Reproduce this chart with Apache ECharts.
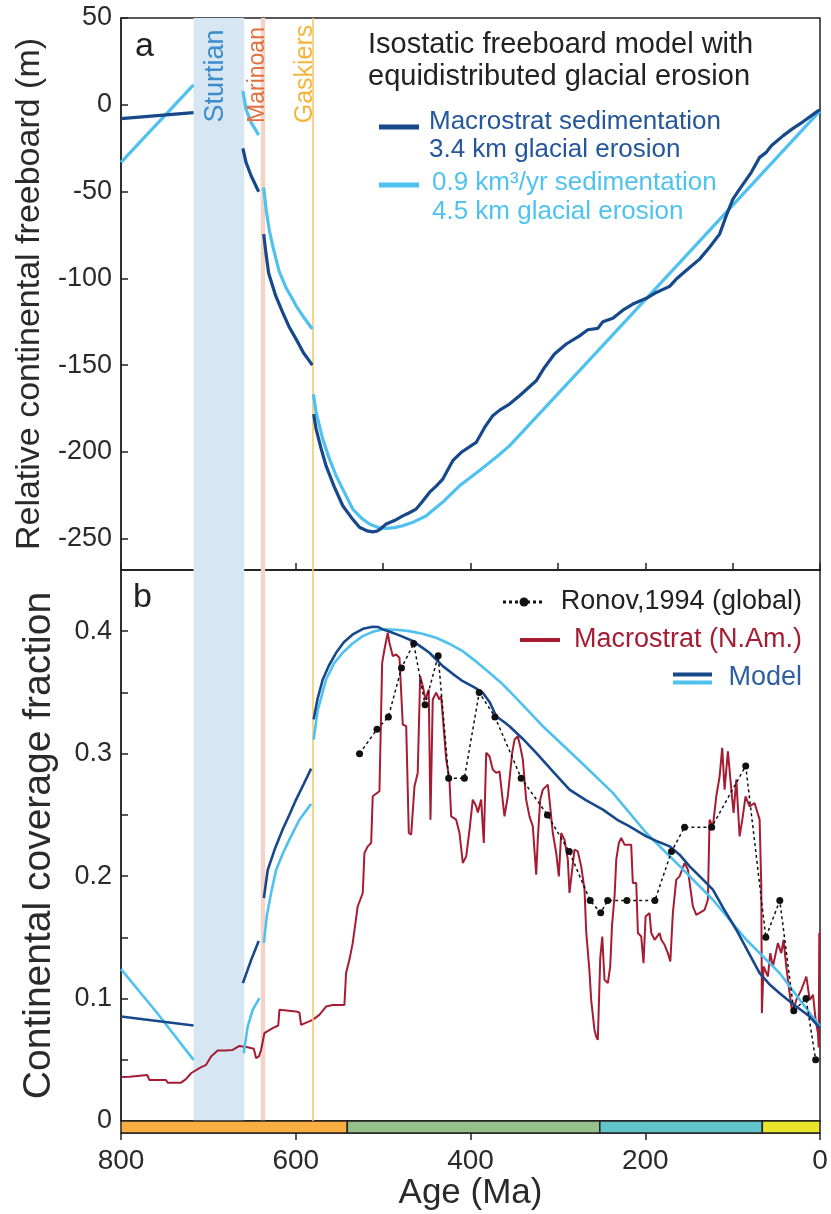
<!DOCTYPE html>
<html>
<head>
<meta charset="utf-8">
<script src="https://cdn.jsdelivr.net/npm/echarts@6/dist/echarts.min.js"></script>
<style>
html,body{margin:0;padding:0;background:#fff;}
#chart{width:831px;height:1214px;}
</style>
</head>
<body>
<div id="chart"></div>
<script>
// ---------------- DATA ----------------
// Panel a: relative continental freeboard (m) vs age (Ma)
const fbMacro1 = [[800,-8],[717,-4.5]];
const fbConst1 = [[800,-33.2],[717,11.5]];
const fbMacro2 = [[660.5,-25.1],[656.9,-33.2],[651.1,-40.9],[642.4,-50.1]];
const fbConst2 = [[660.5,8],[656.9,-2.5],[651.1,-10.1],[642.4,-17.5]];
const fbMacro3 = [[636.7,-74.5],[634,-86],[631,-97],[623,-110],[615,-119.6],[607.5,-128],[599.6,-135],[591,-143],[581,-150]];
const fbConst3 = [[636.7,-47.6],[634,-60],[630,-73],[626,-82],[619,-96],[611,-105.5],[603,-112.5],[599.6,-115.8],[590,-123],[581,-129.2]];
const fbMacro4 = [[579.5,-178.2],[576.7,-186.9],[571,-198],[565.3,-208],[556,-220],[546.2,-231],[536,-238],[527.1,-243.4],[518,-245.5],[512,-246],[507,-245.6],[504.2,-244.8],[496.5,-241.5],[487,-239.5],[477.5,-236.8],[470,-235],[462.2,-232.9],[455,-228.5],[447,-223.3],[439,-219.5],[431.7,-215.6],[420.3,-205],[410,-200],[393.5,-194.5],[384,-186],[374.5,-179.1],[366.6,-175.9],[355.4,-172.4],[343.9,-167.6],[324.8,-159],[315.3,-151.3],[303.9,-143.6],[290.4,-137.8],[275.2,-133.1],[265.7,-129.6],[254.3,-128.8],[248.5,-125],[237.1,-123],[225.6,-118.3],[214.2,-114.8],[198.8,-111.5],[187.4,-108.1],[172.1,-104.6],[164.5,-100.4],[149.2,-93.7],[137.8,-88.9],[126.4,-82.1],[114.9,-74.5],[107.3,-63.9],[99.7,-54.3],[92,-48.6],[78.6,-38.9],[69.1,-30.3],[61.5,-27.4],[55.7,-23.6],[42.4,-17.9],[30.9,-13.6],[19.5,-9.8],[2.3,-3.5],[0,-3]];
const fbConst4 = [[579.8,-166.8],[576.7,-177.2],[569.1,-192.6],[561.5,-204],[553.8,-213.7],[546.2,-221.4],[534.8,-232.9],[525,-238],[515.7,-241.5],[505,-243.6],[496.5,-244],[487,-243.6],[477.5,-242.5],[465,-240.3],[450.7,-236.8],[432,-229],[412.6,-219.5],[390,-210.8],[370,-202.8],[355.4,-196.5],[250,-139.5],[150,-85.2],[0,-3.5]];

// Panel b: continental coverage fraction vs age (Ma)
const covMacro1 = [[800,0.0853],[717,0.078]];
const covConst1 = [[800,0.124],[760,0.0894],[717,0.0499]];
const covMacro2 = [[660.5,0.1126],[651,0.1316],[642.4,0.147]];
const covConst2 = [[659.6,0.0553],[655,0.0771],[649.3,0.0908],[641.6,0.1003]];
const covMacro3 = [[636.5,0.182],[632.1,0.205],[623.5,0.223],[615,0.238],[607,0.2505],[599.6,0.2625],[591,0.275],[582.4,0.2878]];
const covConst3 = [[636.5,0.1455],[633,0.168],[628,0.187],[622.5,0.205],[615,0.218],[607.3,0.2298],[595.8,0.246],[582.4,0.259]];
const covMacro4 = [[579.5,0.328],[575,0.345],[569.1,0.3606],[562,0.372],[553.8,0.3824],[545,0.391],[534.8,0.3974],[523,0.402],[512,0.4037],[506,0.4035],[500.4,0.4015],[490,0.399],[481.3,0.3966],[466.1,0.392],[456,0.387],[447,0.3824],[431.7,0.3715],[420,0.365],[408.8,0.3592],[395,0.354],[385.9,0.3497],[378,0.342],[370.6,0.3306],[360,0.325],[355.4,0.3224],[340,0.312],[324.8,0.3007],[305,0.285],[286.7,0.2706],[268,0.262],[248.5,0.2543],[232,0.246],[218,0.2406],[198.8,0.2325],[185,0.228],[172.1,0.2243],[160,0.217],[149.2,0.208],[135,0.198],[122.6,0.1889],[110,0.173],[95.8,0.1562],[82,0.138],[69.1,0.1208],[57,0.111],[46.2,0.1044],[37,0.099],[27.1,0.0935],[11.8,0.0853],[0,0.0758]];
const covConst4 = [[579.5,0.3115],[575,0.335],[565.3,0.3606],[556,0.374],[546.2,0.3824],[535,0.39],[523.3,0.396],[512,0.3995],[500.4,0.4015],[485,0.4012],[469.9,0.4001],[455,0.398],[439.3,0.3947],[425,0.39],[408.8,0.3837],[395,0.376],[378.3,0.366],[365,0.358],[355.4,0.351],[336,0.3365],[317.2,0.3224],[275,0.294],[237.1,0.268],[198.8,0.2352],[160.3,0.208],[122.6,0.1807],[84.3,0.148],[46.2,0.1208],[0,0.0771]];

const macrostrat = [[800,0.036],[790,0.0362],[770,0.0376],[767.6,0.0335],[748.5,0.0335],[746.6,0.0313],[731.3,0.0313],[726,0.034],[719.8,0.039],[710.3,0.0431],[702.7,0.0458],[696.9,0.0526],[689.4,0.0575],[680,0.0575],[672.2,0.058],[664.5,0.0613],[655,0.0602],[648,0.059],[645.4,0.0512],[642,0.053],[639.7,0.058],[635.9,0.0717],[626.4,0.0758],[620,0.078],[618.7,0.0908],[600,0.0895],[595.8,0.0886],[593.9,0.0785],[580.6,0.0826],[573,0.0867],[565.3,0.0935],[557.7,0.0948],[544.3,0.0948],[542.4,0.1208],[538.6,0.1316],[534.8,0.1453],[529.1,0.1752],[523.3,0.1862],[521.4,0.2189],[517.6,0.2243],[513.7,0.227],[511.9,0.2652],[504.2,0.2693],[501.1,0.3742],[498.5,0.3851],[494.7,0.3987],[492.8,0.3906],[489,0.3797],[485.1,0.381],[481.3,0.3783],[477.5,0.3238],[473.6,0.3225],[470.6,0.2352],[467.9,0.2339],[464.1,0.2734],[460.4,0.2843],[457.6,0.3633],[454.6,0.3551],[451.6,0.3442],[447.8,0.3524],[445.8,0.2461],[443.2,0.3442],[439.3,0.3497],[435.5,0.3442],[433.6,0.347],[427.8,0.2952],[424.1,0.2788],[422.1,0.2488],[416.4,0.2461],[412.6,0.2352],[408.8,0.2107],[404.9,0.2161],[401.1,0.2379],[397.4,0.2625],[393.5,0.257],[391.6,0.252],[387.8,0.2625],[384.8,0.2271],[382,0.3007],[378.3,0.2979],[374.5,0.287],[370.6,0.2843],[366.8,0.2856],[361.1,0.2488],[357.3,0.2652],[352.3,0.3007],[349.6,0.3115],[345.9,0.3142],[343.1,0.306],[340.1,0.2952],[336.3,0.2625],[332.5,0.2488],[328.7,0.2406],[324.8,0.2011],[323,0.2298],[320.2,0.2625],[317.2,0.2706],[311.5,0.2747],[309.6,0.2625],[305.8,0.2352],[301.9,0.2189],[298.9,0.1998],[296.2,0.2352],[292.4,0.2298],[288.6,0.2134],[286.7,0.1862],[281,0.2216],[277.2,0.2202],[273.3,0.2079],[269.5,0.1889],[267.6,0.1548],[263.8,0.122],[261.9,0.0989],[258.1,0.0744],[256.1,0.0689],[254.3,0.0662],[253.1,0.0662],[251.5,0.133],[249.2,0.1507],[246.6,0.1153],[242.8,0.1126],[240.1,0.1262],[238,0.16],[235,0.185],[233.2,0.2134],[230.2,0.2271],[227.5,0.2311],[223.7,0.2257],[216.1,0.2257],[214.2,0.1944],[210.3,0.1944],[208.4,0.1535],[204.6,0.1507],[202,0.1289],[199.6,0.167],[195.1,0.1698],[193.1,0.1535],[189.3,0.148],[183.6,0.1535],[181.6,0.148],[177.9,0.1439],[174.1,0.1371],[171.3,0.1303],[168.4,0.1698],[164.5,0.1971],[160.7,0.1998],[155,0.2107],[151.2,0.2052],[145.5,0.1752],[141.6,0.1684],[132.1,0.1725],[128.3,0.1807],[126.4,0.2461],[122.6,0.2406],[118.7,0.2652],[114.9,0.2815],[111.9,0.3047],[109.2,0.2706],[105.4,0.302],[101.5,0.2706],[98.9,0.2516],[95.8,0.2788],[92,0.2325],[88.9,0.2461],[85.2,0.2652],[80.6,0.257],[74.9,0.2597],[69.1,0.2461],[67.2,0.1916],[66.5,0.0881],[64.6,0.1262],[59.6,0.118],[56.9,0.1371],[53.9,0.1262],[48.2,0.1453],[44.3,0.1371],[41.7,0.148],[38.6,0.1262],[34.8,0.1044],[31.7,0.0881],[27.1,0.0989],[21.4,0.1071],[15.6,0.118],[11.8,0.0989],[8,0.103],[5,0.0826],[2.3,0.0717],[1.5,0.06],[0.8,0.1535]];

const ronov = [[527,0.30],[507,0.32],[494,0.33],[479,0.37],[465,0.39],[452,0.34],[437,0.38],[425,0.28],[407,0.28],[390,0.35],[372,0.33],[342,0.28],[312,0.25],[287,0.22],[263,0.18],[251,0.17],[243,0.18],[221,0.18],[189,0.18],[170,0.22],[155,0.24],[124,0.24],[85,0.29],[62,0.15],[46,0.18],[30,0.09],[16,0.10],[5,0.05]];

// Glaciations (Ma) and geologic time-scale bar (Ma)
const sturtian = [717, 659];
const marinoan = [640, 635];
const gaskiers = 580;
const periods = [[800,541],[541,252],[252,66],[66,0]];

// Axis tick labels
const freeboardTicks = [-250,-200,-150,-100,-50,0,50];

// ---------------- STYLE ----------------
const DARK = '#17488A', LIGHT = '#4EC1EF', RED = '#A51C33';
const periodColors = ['#F8AE40','#96C08A','#62C4C8','#EAE52A'];
const FONT = 'Liberation Sans, Arial, sans-serif';
const TXT = '#2a2a2a';

const chart = echarts.init(document.getElementById('chart'), null, {renderer:'canvas'});

function seg(data, xi, color, width) {
  return {type:'line', xAxisIndex:xi, yAxisIndex:xi, data:data, showSymbol:false, symbol:'none',
    lineStyle:{color:color, width:width}, z:5, silent:true};
}
function bandSeries(xi) {
  return {type:'line', xAxisIndex:xi, yAxisIndex:xi, data:[], silent:true, z:1,
    markArea:{silent:true, data:[
      [{xAxis:sturtian[0], itemStyle:{color:'#D6E6F3'}},{xAxis:sturtian[1]}],
      [{xAxis:marinoan[0], itemStyle:{color:'#F4D2C6'}},{xAxis:marinoan[1]}]
    ]},
    markLine:{silent:true, symbol:'none', label:{show:false},
      lineStyle:{color:'#F5C868', width:1.6, type:'solid'}, data:[{xAxis:gaskiers}]}
  };
}

const axisLine = {show:true, onZero:false, lineStyle:{color:'#222', width:1.5}};

const option = {
  animation:false,
  backgroundColor:'#fff',
  grid:[
    {left:121, right:11, top:18, height:552, show:true, borderColor:'#222', borderWidth:1.5, backgroundColor:'transparent'},
    {left:121, right:11, top:570, height:551, show:true, borderColor:'#222', borderWidth:1.5, backgroundColor:'transparent'},
    {left:121, right:11, top:1121, height:12, show:false}
  ],
  xAxis:[
    {gridIndex:0, type:'value', min:0, max:800, interval:100, inverse:true, position:'bottom',
      axisLine:axisLine, axisTick:{show:true, inside:true, length:7, lineStyle:{color:'#222', width:1.5}},
      axisLabel:{show:false}, splitLine:{show:false}},
    {gridIndex:1, type:'value', min:0, max:800, interval:100, inverse:true, position:'bottom',
      axisLine:axisLine, axisTick:{show:false}, axisLabel:{show:false}, splitLine:{show:false}},
    {gridIndex:2, type:'value', min:0, max:800, interval:200, inverse:true, position:'bottom',
      axisLine:axisLine, axisTick:{show:true, inside:false, length:7, lineStyle:{color:'#222', width:1.5}},
      axisLabel:{show:true, margin:14, fontSize:28, color:TXT, fontFamily:FONT},
      splitLine:{show:false},
      name:'Age (Ma)', nameLocation:'middle', nameGap:42,
      nameTextStyle:{fontSize:35, color:TXT, fontFamily:FONT}}
  ],
  yAxis:[
    {gridIndex:0, type:'value', min:-268, max:50, position:'left',
      axisLine:axisLine,
      axisTick:{show:true, inside:true, length:7, customValues:freeboardTicks, lineStyle:{color:'#222', width:1.5}},
      axisLabel:{show:true, margin:9, fontSize:27, color:TXT, fontFamily:FONT, customValues:freeboardTicks},
      splitLine:{show:false},
      name:'Relative continental freeboard (m)', nameLocation:'middle', nameGap:62,
      nameTextStyle:{fontSize:34, color:TXT, fontFamily:FONT}},
    {gridIndex:1, type:'value', min:0, max:0.45, interval:0.05, position:'left',
      axisLine:axisLine,
      axisTick:{show:true, inside:true, length:7, lineStyle:{color:'#222', width:1.5}},
      axisLabel:{show:true, margin:9, fontSize:27, color:TXT, fontFamily:FONT, showMaxLabel:false,
        formatter:function(v){ const k = Math.round(v*20); return (k % 2 === 0) ? String(+(k/20).toFixed(2)) : ''; }},
      splitLine:{show:false},
      name:'Continental coverage fraction', nameLocation:'middle', nameGap:62,
      nameTextStyle:{fontSize:39, color:TXT, fontFamily:FONT}},
    {gridIndex:2, type:'value', min:0, max:1, show:false}
  ],
  series:[
    bandSeries(0),
    bandSeries(1),
    seg(fbConst1,0,LIGHT,3.2), seg(fbConst2,0,LIGHT,3.2), seg(fbConst3,0,LIGHT,3.2), seg(fbConst4,0,LIGHT,3.2),
    seg(fbMacro1,0,DARK,3.2), seg(fbMacro2,0,DARK,3.2), seg(fbMacro3,0,DARK,3.2), seg(fbMacro4,0,DARK,3.2),
    Object.assign(seg(macrostrat,1,RED,2), {z:4}),
    seg(covConst1,1,LIGHT,2.6), seg(covConst2,1,LIGHT,2.6), seg(covConst3,1,LIGHT,2.6), seg(covConst4,1,LIGHT,2.6),
    seg(covMacro1,1,DARK,2.6), seg(covMacro2,1,DARK,2.6), seg(covMacro3,1,DARK,2.6), seg(covMacro4,1,DARK,2.6),
    {type:'line', xAxisIndex:1, yAxisIndex:1, data:ronov, symbol:'circle', symbolSize:7, showSymbol:true,
      itemStyle:{color:'#111'}, lineStyle:{color:'#111', width:1.5, type:[3,3]}, z:6, silent:true},
    {type:'custom', xAxisIndex:2, yAxisIndex:2, data:periods, silent:true, z:3,
      encode:{x:[0,1]},
      renderItem:function(params, api){
        const p0 = api.coord([api.value(0), 1]);
        const p1 = api.coord([api.value(1), 0]);
        return {type:'rect', shape:{x:Math.min(p0[0],p1[0]), y:p0[1], width:Math.abs(p1[0]-p0[0]), height:p1[1]-p0[1]},
          style:{fill:periodColors[params.dataIndex], stroke:'#222', lineWidth:1.5}};
      }}
  ],
  graphic:[
    // panel letters
    {type:'text', z:100, x:135, y:47, style:{text:'a', font:'34px '+FONT, fill:'#222', textVerticalAlign:'middle'}},
    {type:'text', z:100, x:133, y:598, style:{text:'b', font:'34px '+FONT, fill:'#222', textVerticalAlign:'middle'}},
    // glaciation names (vertical)
    {type:'text', z:100, x:216, y:76, rotation:Math.PI/2, style:{text:'Sturtian', font:'27px '+FONT, fill:'#3B8DCB', textAlign:'center', textVerticalAlign:'middle'}},
    {type:'text', z:100, x:258, y:75, rotation:Math.PI/2, style:{text:'Marinoan', font:'23px '+FONT, fill:'#E2703F', textAlign:'center', textVerticalAlign:'middle'}},
    {type:'text', z:100, x:305, y:74, rotation:Math.PI/2, style:{text:'Gaskiers', font:'25px '+FONT, fill:'#F2B63A', textAlign:'center', textVerticalAlign:'middle'}},
    // panel a legend
    {type:'text', z:100, x:368, y:45, style:{text:'Isostatic freeboard model with', font:'29px '+FONT, fill:'#222', textVerticalAlign:'middle'}},
    {type:'text', z:100, x:368, y:77, style:{text:'equidistributed glacial erosion', font:'29px '+FONT, fill:'#222', textVerticalAlign:'middle'}},
    {type:'line', z:100, shape:{x1:379, y1:127, x2:419, y2:127}, style:{stroke:DARK, lineWidth:5}},
    {type:'text', z:100, x:429, y:122, style:{text:'Macrostrat sedimentation', font:'26px '+FONT, fill:'#24579A', textVerticalAlign:'middle'}},
    {type:'text', z:100, x:429, y:150, style:{text:'3.4 km glacial erosion', font:'26px '+FONT, fill:'#24579A', textVerticalAlign:'middle'}},
    {type:'line', z:100, shape:{x1:379, y1:185, x2:419, y2:185}, style:{stroke:LIGHT, lineWidth:5}},
    {type:'text', z:100, x:432, y:183, style:{text:'0.9 km\u00B3/yr sedimentation', font:'26px '+FONT, fill:'#4FC3F0', textVerticalAlign:'middle'}},
    {type:'text', z:100, x:432, y:212, style:{text:'4.5 km glacial erosion', font:'26px '+FONT, fill:'#4FC3F0', textVerticalAlign:'middle'}},
    // panel b legend
    {type:'line', z:100, shape:{x1:503, y1:602, x2:545, y2:602}, style:{stroke:'#111', lineWidth:3, lineDash:[3,3]}},
    {type:'circle', z:100, shape:{cx:524, cy:602, r:4.5}, style:{fill:'#111'}},
    {type:'text', z:100, x:802, y:602, style:{text:'Ronov,1994 (global)', font:'27px '+FONT, fill:'#222', textAlign:'right', textVerticalAlign:'middle'}},
    {type:'line', z:100, shape:{x1:520, y1:640, x2:560, y2:640}, style:{stroke:RED, lineWidth:4}},
    {type:'text', z:100, x:802, y:640, style:{text:'Macrostrat (N.Am.)', font:'27px '+FONT, fill:RED, textAlign:'right', textVerticalAlign:'middle'}},
    {type:'line', z:100, shape:{x1:673, y1:674.5, x2:712, y2:674.5}, style:{stroke:DARK, lineWidth:4}},
    {type:'line', z:100, shape:{x1:673, y1:682.5, x2:712, y2:682.5}, style:{stroke:LIGHT, lineWidth:4}},
    {type:'text', z:100, x:802, y:678, style:{text:'Model', font:'27px '+FONT, fill:'#2D5F9E', textAlign:'right', textVerticalAlign:'middle'}}
  ]
};
chart.setOption(option);
</script>
</body>
</html>
